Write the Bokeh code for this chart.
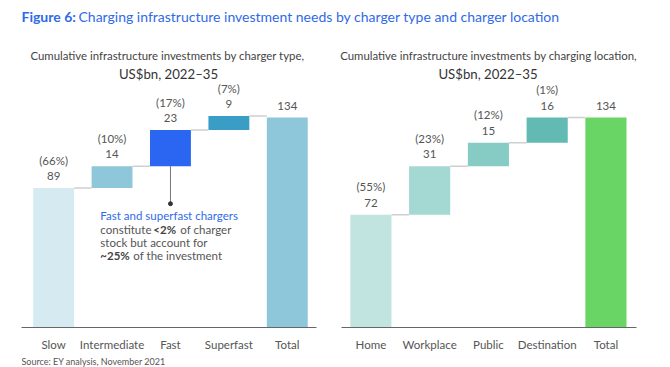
from bokeh.plotting import figure
from bokeh.layouts import column, row
from bokeh.models import Range1d, FixedTicker
from bokeh.core.properties import value
from bokeh.embed import file_html
from bokeh.resources import INLINE

FONT = "Lato"
BLUE = "#2f6ae8"
GREY = "#555555"

# ---------------- data ----------------
type_cats = ["Slow", "Intermediate", "Fast", "Superfast", "Total"]
type_values = [89, 14, 23, 9, 134]
type_pcts = ["(66%)", "(10%)", "(17%)", "(7%)", ""]
type_colors = ["#d6eaf2", "#8ec6da", "#2a66f2", "#3a9dc6", "#8ec6da"]

loc_cats = ["Home", "Workplace", "Public", "Destination", "Total"]
loc_values = [72, 31, 15, 16, 134]
loc_pcts = ["(55%)", "(23%)", "(12%)", "(1%)", ""]
loc_colors = ["#c1e4e1", "#a4d8d3", "#86ccc5", "#62bab3", "#69d564"]

YMAX = 156.4


def waterfall(cats, vals, pcts, colors, xr, bl, br, w):
    n = len(cats)
    bottoms, tops = [], []
    cum = 0
    for i, v in enumerate(vals):
        if i == n - 1:
            bottoms.append(0)
            tops.append(v)
        else:
            bottoms.append(cum)
            tops.append(cum + v)
            cum += v
    xs = [i + 0.5 for i in range(n)]
    p = figure(width=w, height=271, x_range=Range1d(*xr), y_range=Range1d(0, YMAX),
               output_backend="svg", toolbar_location=None,
               min_border_left=bl, min_border_right=br, min_border_top=0, min_border_bottom=26)
    p.outline_line_color = None
    p.xgrid.grid_line_color = None
    p.ygrid.grid_line_color = None
    p.yaxis.visible = False
    p.vbar(x=xs, width=0.7, bottom=bottoms, top=tops, fill_color=colors, line_color=None)
    # connectors
    p.segment(x0=[xs[i] + 0.35 for i in range(n - 1)], x1=[xs[i + 1] - 0.35 for i in range(n - 1)],
              y0=tops[:-1], y1=tops[:-1], line_color="#cfcfcf", line_width=1.5)
    # labels
    p.text(x=xs, y=tops, text=[str(v) for v in vals], y_offset=-12,
           text_align="center", text_baseline="middle", text_font=value(FONT),
           text_font_size="11.5px", text_color=GREY)
    p.text(x=xs, y=tops, text=pcts, y_offset=-28,
           text_align="center", text_baseline="middle", text_font=value(FONT),
           text_font_size="11.5px", text_color=GREY)
    ax = p.xaxis[0]
    ax.ticker = FixedTicker(ticks=xs)
    ax.major_label_overrides = {x: c for x, c in zip(xs, cats)}
    ax.axis_line_color = "#666666"
    ax.axis_line_width = 1
    ax.major_tick_line_color = None
    ax.minor_tick_line_color = None
    ax.major_label_standoff = 4
    ax.major_label_text_font = FONT
    ax.major_label_text_font_size = "11.5px"
    ax.major_label_text_color = GREY
    return p, xs, bottoms, tops


left, lxs, lb, lt = waterfall(type_cats, type_values, type_pcts, type_colors, (-0.05, 5.0), 21, 19, 335)
right, rxs, rb, rt = waterfall(loc_cats, loc_values, loc_pcts, loc_colors, (0.0, 5.02), 6, 34, 335)

# annotation on left chart
ANN_END = 79
left.segment(x0=[lxs[2]], x1=[lxs[2]], y0=[lb[2]], y1=[ANN_END], line_color="#777777", line_width=1)
left.scatter(x=[lxs[2]], y=[ANN_END], size=4, color="#333333")
ANN_X = 1.30
tf = dict(text_baseline="middle", text_align="left", text_font=value(FONT), text_font_size="11.5px")
left.text(x=[ANN_X], y=[71.5], text=["Fast and superfast chargers"], text_color=BLUE, **tf)
left.text(x=[ANN_X], y=[62.6], text=["constitute"], text_color=GREY, **tf)
left.text(x=[ANN_X], y=[62.6], text=["<2%"], x_offset=53, text_color="#444444", text_font_style="bold", **tf)
left.text(x=[ANN_X], y=[62.6], text=["of charger"], x_offset=80, text_color=GREY, **tf)
left.text(x=[ANN_X], y=[54.3], text=["stock but account for"], text_color=GREY, **tf)
left.text(x=[ANN_X], y=[46.0], text=["~25%"], text_color="#444444", text_font_style="bold", **tf)
left.text(x=[ANN_X], y=[46.0], text=["of the investment"], x_offset=33, text_color=GREY, **tf)

# header
hdr = figure(width=670, height=82, x_range=Range1d(0, 670), y_range=Range1d(82, 0),
             output_backend="svg", toolbar_location=None, min_border=0)
hdr.axis.visible = False
hdr.grid.grid_line_color = None
hdr.outline_line_color = None
hf = dict(text_baseline="middle", text_font=value(FONT))
hdr.text(x=[21], y=[16], text=["Figure 6:"], text_color=BLUE, text_font_style="bold",
         text_font_size="14px", text_align="left", **hf)
hdr.text(x=[78], y=[16], text=["Charging infrastructure investment needs by charger type and charger location"],
         text_color=BLUE, text_font_size="14px", text_align="left", **hf)
hdr.text(x=[167, 488], y=[55, 55],
         text=["Cumulative infrastructure investments by charger type,",
               "Cumulative infrastructure investments by charging location,"],
         text_color="#444444", text_font_size="11.4px", text_align="center", **hf)
hdr.text(x=[168, 487.5], y=[73, 73], text=["US$bn, 2022–35", "US$bn, 2022–35"],
         text_color="#333333", text_font_size="13.2px", text_align="center", **hf)

# footer
ftr = figure(width=670, height=14, x_range=Range1d(0, 670), y_range=Range1d(14, 0),
             output_backend="svg", toolbar_location=None, min_border=0)
ftr.axis.visible = False
ftr.grid.grid_line_color = None
ftr.outline_line_color = None
ftr.text(x=[21], y=[2], text=["Source: EY analysis, November 2021"], text_color=GREY,
         text_font_size="9px", text_align="left", text_baseline="top", text_font=value(FONT))

layout = column(hdr, row(left, right), ftr)
open("out.html", "w").write(file_html(layout, INLINE))
